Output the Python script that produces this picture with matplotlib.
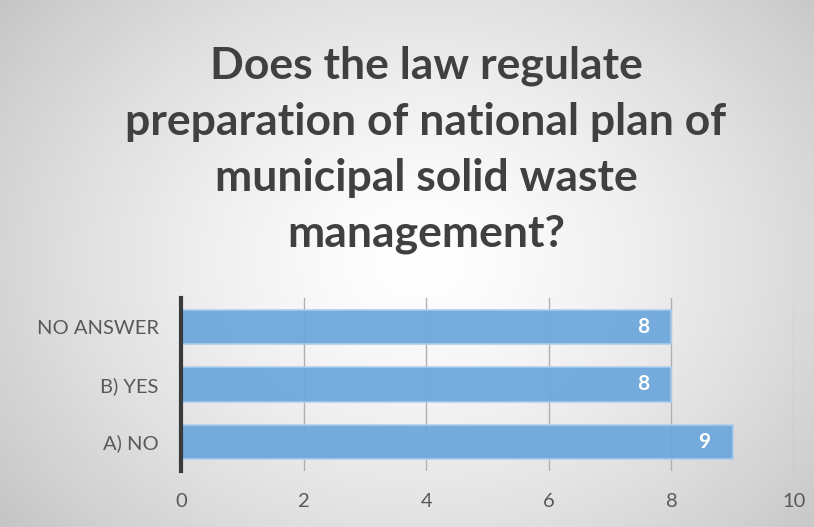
import matplotlib

matplotlib.use("Agg")
import matplotlib.pyplot as plt
import numpy as np

categories = ["A) NO", "B) YES", "NO ANSWER"]
values = [9, 8, 8]
x_ticks = [0, 2, 4, 6, 8, 10]
title = "Does the law regulate\npreparation of national plan of\nmunicipal solid waste\nmanagement?"

W, H = 814, 527
fig = plt.figure(figsize=(W / 100, H / 100), dpi=100)

# radial gradient background
bg = fig.add_axes([0, 0, 1, 1], zorder=-10)
yy, xx = np.mgrid[0:H, 0:W]
r = np.sqrt(((xx - 420) / 520.0) ** 2 + ((yy - 260) / 420.0) ** 2)
shade = 1.0 - 0.22 * np.clip(r, 0, 1.2) ** 1.4
bg.imshow(np.dstack([shade] * 3), aspect="auto", extent=[0, 1, 0, 1])
bg.axis("off")

fig.text(426 / W, 1 - 150 / H, title, ha="center", va="center",
         fontsize=32, fontweight="bold", color="#404040",
         family="Lato", linespacing=1.48)

ax = fig.add_axes([181 / W, 1 - 471 / H, (794 - 181) / W, (471 - 298) / H])
ax.patch.set_alpha(0)
y = np.arange(len(categories))
bars = ax.barh(y, values, height=0.6, color="#6fa8dc", edgecolor="#a9cdee",
               linewidth=1.2, alpha=0.95, zorder=2)
for b, v in zip(bars, values):
    ax.annotate(str(v), (v, b.get_y() + b.get_height() / 2),
                xytext=(-16, 0), textcoords="offset points", ha="right",
                va="center", color="white", fontweight="bold", fontsize=15,
                family="Lato", zorder=3)

ax.set_xlim(0, 10)
ax.set_ylim(-0.5, 2.5)
ax.set_xticks(x_ticks)
ax.set_yticks(y)
ax.set_yticklabels(categories)
ax.grid(axis="x", color="#b0b0b0", linewidth=1, zorder=1)
ax.set_axisbelow(True)
for s in ["top", "right", "bottom"]:
    ax.spines[s].set_visible(False)
ax.spines["left"].set_linewidth(3)
ax.spines["left"].set_color("#3a3a3a")
ax.spines["left"].set_zorder(4)
ax.tick_params(length=0, labelsize=14.5, colors="#595959")
ax.tick_params(axis="x", pad=16)
ax.tick_params(axis="y", pad=16)
for lab in ax.get_xticklabels() + ax.get_yticklabels():
    lab.set_family("Lato")

fig.savefig("out.png", dpi=100)
